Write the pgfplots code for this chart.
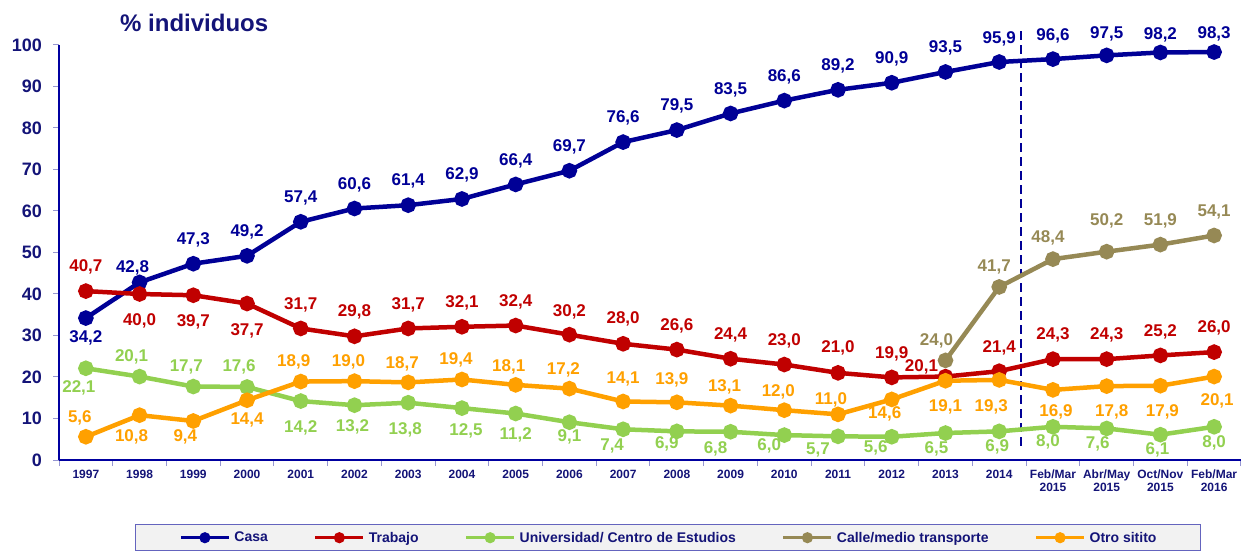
\documentclass[border=0pt]{standalone}
\usepackage{fontspec}
\setmainfont{Liberation Sans}
\usepackage{pgfplots}
\usepackage{pgfplotstable}
\pgfplotsset{compat=1.18}
\pgfkeys{/pgf/number format/assume math mode=true}
\definecolor{casa}{RGB}{0,0,150}
\definecolor{trabajo}{RGB}{192,0,0}
\definecolor{uni}{RGB}{146,208,80}
\definecolor{calle}{RGB}{150,137,85}
\definecolor{otro}{RGB}{255,160,0}
\definecolor{navytxt}{RGB}{20,20,120}
\definecolor{axisblue}{RGB}{0,0,160}
\definecolor{tickgray}{RGB}{150,150,210}
\definecolor{legfill}{RGB}{242,242,242}
\definecolor{legdraw}{RGB}{100,100,190}

\pgfplotstableread{
x y dx dy
0 34.2 0 -20
1 42.8 -7 14
2 47.3 0 24
3 49.2 0 24
4 57.4 0 24
5 60.6 0 24
6 61.4 0 24
7 62.9 0 24
8 66.4 0 24
9 69.7 0 24
10 76.6 0 24
11 79.5 0 24
12 83.5 0 24
13 86.6 0 24
14 89.2 0 24
15 90.9 0 24
16 93.5 0 24
17 95.9 0 23
18 96.6 0 23
19 97.5 0 21
20 98.2 0 18
21 98.3 0 18
}\casadata

\pgfplotstableread{
x y dx dy
0 40.7 0 24
1 40.0 0 -27
2 39.7 0 -27
3 37.7 0 -27
4 31.7 0 24
5 29.8 0 24
6 31.7 0 24
7 32.1 0 24
8 32.4 0 24
9 30.2 0 23
10 28.0 0 25
11 26.6 0 24
12 24.4 0 24
13 23.0 0 24
14 21.0 0 25
15 19.9 0 24
16 20.1 -24 10
17 21.4 0 23
18 24.3 0 24
19 24.3 0 24
20 25.2 0 24
21 26.0 0 24
}\trabajodata

\pgfplotstableread{
x y dx dy
0 22.1 -7 -20
1 20.1 -8 20
2 17.7 -7 20
3 17.6 -8 20
4 14.2 0 -27
5 13.2 -2 -22
6 13.8 -3 -27
7 12.5 4 -23
8 11.2 0 -21
9 9.1 0 -15
10 7.4 -11 -17
11 6.9 -10 -13
12 6.8 -15 -17
13 6.0 -15 -11
14 5.7 -20 -14
15 5.6 -16 -11
16 6.5 -9 -16
17 6.9 -2 -16
18 8.0 -5 -15
19 7.6 -9 -15
20 6.1 -3 -15
21 8.0 0 -16
}\unidata

\pgfplotstableread{
x y dx dy
16 24.0 -9 20
17 41.7 -5 20
18 48.4 -5 21
19 50.2 0 31
20 51.9 0 24
21 54.1 0 24
}\calledata

\pgfplotstableread{
x y dx dy
0 5.6 -6 19
1 10.8 -8 -22
2 9.4 -8 -16
3 14.4 0 -20
4 18.9 -7 20
5 19.0 -6 19
6 18.7 -6 19
7 19.4 -6 20
8 18.1 -7 18
9 17.2 -6 19
10 14.1 0 23
11 13.9 -5 22
12 13.1 -6 19
13 12.0 -6 18
14 11.0 -7 14
15 14.6 -7 -14
16 19.1 0 -26
17 19.3 -8 -27
18 16.9 3 -22
19 17.8 5 -26
20 17.9 2 -26
21 20.1 3 -24
}\otrodata

\pgfplotsset{
  vlab/.style={
    point meta=y,
    nodes near coords={\pgfmathprintnumber[fixed,fixed zerofill,precision=1,use comma]{\pgfplotspointmeta}},
    visualization depends on={\thisrow{dx}\as\labdx},
    visualization depends on={\thisrow{dy}\as\labdy},
    every node near coord/.append style={anchor=center, inner sep=0pt,
      xshift=\labdx pt, yshift=\labdy pt,
      font=\fontsize{17}{20}\selectfont\bfseries, text=#1},
  },
  serie/.style={#1, line width=4.5pt, mark=*, mark size=5.5pt, mark options={solid, fill=#1}},
}

\begin{document}
\begin{tikzpicture}
\begin{axis}[
  at={(59pt,91pt)}, anchor=south west,
  scale only axis, width=1182pt, height=415pt,
  xmin=-0.5, xmax=21.5, ymin=0, ymax=100,
  clip=false,
  axis x line*=bottom, axis y line*=left,
  axis line style={draw=axisblue, line width=1.2pt, -},
  tick align=outside, major tick length=6pt,
  every tick/.style={draw=tickgray, line width=1pt},
  ytick={0,10,...,100},
  yticklabel style={anchor=east, inner sep=0pt, xshift=-11pt, font=\fontsize{18}{20}\selectfont\bfseries, text=navytxt},
  xtick={-0.5,0.5,...,21.5}, xticklabels={},
  extra x ticks={0,1,...,21},
  extra x tick labels={1997,1998,1999,2000,2001,2002,2003,2004,2005,2006,2007,2008,2009,2010,2011,2012,2013,2014,{Feb/Mar\\2015},{Abr/May\\2015},{Oct/Nov\\2015},{Feb/Mar\\2016}},
  extra x tick style={major tick length=0pt},
  xticklabel style={anchor=north, inner sep=0pt, yshift=-10pt, align=center, font=\fontsize{12}{13}\selectfont\bfseries, text=navytxt},
  legend columns=5,
  legend style={at={(0.0643,-0.1554)}, anchor=north west, draw=legdraw, fill=legfill, line width=0.8pt,
    inner xsep=44pt, inner ysep=7pt, font=\fontsize{14}{16}\selectfont\bfseries, text=navytxt,
    /tikz/every odd column/.append style={column sep=4pt},
    /tikz/every even column/.append style={column sep=46pt},
    nodes={inner sep=0pt}},
  legend image code/.code={\draw[mark repeat=2,mark phase=2,#1, line width=3pt, mark size=4pt] plot coordinates {(0pt,0pt) (24pt,0pt) (48pt,0pt)};},
]
\draw[casa, dash pattern=on 9pt off 5pt, line width=2pt] (axis cs:17.4,3.4) -- (axis cs:17.4,103.6);
\addplot[serie=casa, vlab=casa] table[x=x,y=y] \casadata;
\addlegendentry{Casa}
\addplot[serie=trabajo, vlab=trabajo] table[x=x,y=y] \trabajodata;
\addlegendentry{Trabajo}
\addplot[serie=uni, vlab=uni] table[x=x,y=y] \unidata;
\addlegendentry{Universidad/ Centro de Estudios}
\addplot[serie=calle, vlab=calle] table[x=x,y=y] \calledata;
\addlegendentry{Calle/medio transporte}
\addplot[serie=otro, vlab=otro] table[x=x,y=y] \otrodata;
\addlegendentry{Otro sitito}
\end{axis}
\node[anchor=west, inner sep=0pt, font=\fontsize{24}{28}\selectfont\bfseries, text=navytxt] at (120pt,528pt) {\% individuos};
\pgfresetboundingbox
\path (0,0) rectangle (1241pt,551pt);
\end{tikzpicture}
\end{document}
